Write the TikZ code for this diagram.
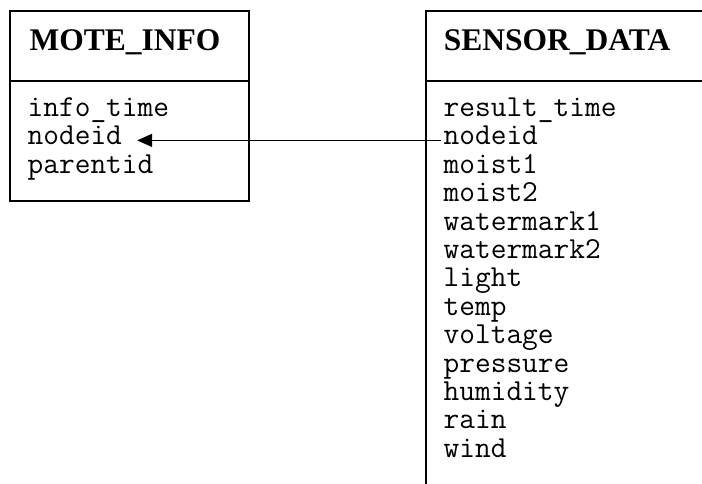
\documentclass[tikz,border=0pt]{standalone}
\usepackage{fontspec}
\setmainfont{Liberation Serif}
\usetikzlibrary{arrows.meta}
\begin{document}
\begin{tikzpicture}[x=1pt,y=-1pt,
  frame/.style={line width=2pt, line cap=rect},
  title/.style={anchor=base west, inner sep=0pt,
    font=\fontsize{31.5}{34}\selectfont\bfseries},
  field/.style={anchor=base west, inner sep=0pt,
    font=\fontsize{30.5}{28.4}\ttfamily},
  link/.style={line width=1.5pt, -{Triangle[length=15pt,width=13pt]}}]
\fill[white] (0,0) rectangle (702,483);
\useasboundingbox (0,0) rectangle (702,483);

% MOTE_INFO table
\draw[frame] (9.5,10.5) rectangle (248.5,200.5);
\draw[frame] (9.5,80.5) -- (248.5,80.5);
\node[title] (mi-title) at (29.5,50) {MOTE\_INFO};
\foreach [count=\i] \f in {info\_time,nodeid,parentid}
  \node[field] (mi-\i) at (27.5,{116.5+(\i-1)*28.4}) {\f};

% SENSOR_DATA table (runs off the right and bottom edges)
\draw[frame] (702,10.5) -- (425.5,10.5) -- (425.5,483);
\draw[frame] (425.5,80.5) -- (702,80.5);
\node[title] (sd-title) at (443.7,50) {SENSOR\_DATA};
\foreach [count=\i] \f in {result\_time,nodeid,moist1,moist2,watermark1,
    watermark2,light,temp,voltage,pressure,humidity,rain,wind}
  \node[field] (sd-\i) at (443.5,{116.5+(\i-1)*28.4}) {\f};

% foreign key: SENSOR_DATA.nodeid -> MOTE_INFO.nodeid
\draw[link] ([xshift=-2.5pt,yshift=4.5pt]sd-2.base west)
  -- ([xshift=15pt,yshift=4.5pt]mi-2.base east);
\end{tikzpicture}
\end{document}
